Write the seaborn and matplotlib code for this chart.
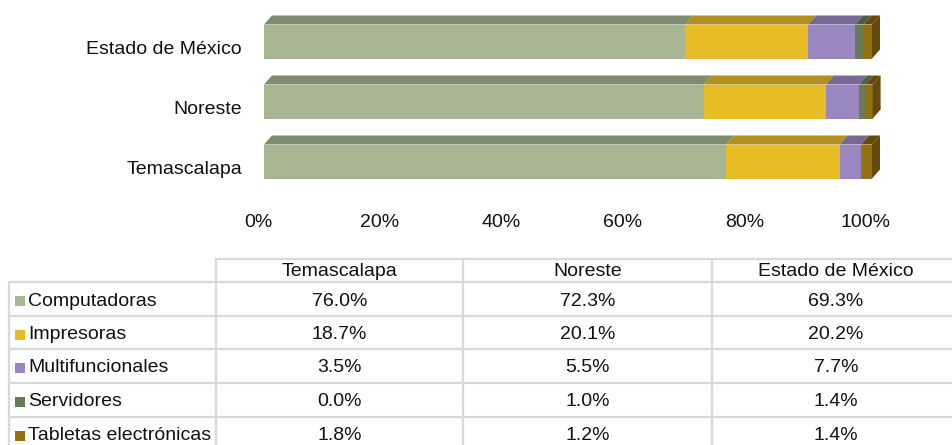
import matplotlib
matplotlib.use("Agg")
import matplotlib.pyplot as plt
import matplotlib.transforms as mtransforms
from matplotlib.patches import Polygon, Rectangle
import numpy as np
import pandas as pd
import seaborn as sns

# data (percent)
regions = ["Estado de México", "Noreste", "Temascalapa"]
table_cols = ["Temascalapa", "Noreste", "Estado de México"]
categories = ["Computadoras", "Impresoras", "Multifuncionales", "Servidores", "Tabletas electrónicas"]
computadoras = [69.3, 72.3, 76.0]
impresoras = [20.2, 20.1, 18.7]
multifuncionales = [7.7, 5.5, 3.5]
servidores = [1.4, 1.0, 0.0]
tabletas = [1.4, 1.2, 1.8]
x_ticks = [0, 20, 40, 60, 80, 100]

colors = ["#A7B593", "#E7BD27", "#9A86C1", "#687B55", "#957211"]
top_colors = ["#808A6F", "#B38F20", "#786896", "#4F5E40", "#64490B"]

values = np.array([computadoras, impresoras, multifuncionales, servidores, tabletas])
cum = values.cumsum(axis=0)

sns.set_style("white")
plt.rcParams["font.family"] = ["Liberation Sans", "DejaVu Sans"]
FS = 14
TXT = "#111111"

W, H = 953, 445
fig = plt.figure(figsize=(W / 100, H / 100), dpi=100)


def px_axes(l, t, r, b):
    return fig.add_axes([l / W, 1 - b / H, (r - l) / W, (b - t) / H])


# table canvas (pixel units)
tax = fig.add_axes([0, 0, 1, 1])
tax.set_xlim(0, W)
tax.set_ylim(H, 0)
tax.axis("off")

# bars
ax = px_axes(264, 10, 872, 210)
bar_h = 34 / 60
for j in range(len(categories) - 1, -1, -1):
    df = pd.DataFrame({"region": regions, "cum": cum[j]})
    sns.barplot(data=df, x="cum", y="region", order=regions, color=colors[j],
                saturation=1, width=bar_h, orient="h", edgecolor="none", ax=ax)
for p in ax.patches:
    p.set_clip_on(False)

ax.set_xlim(0, 100)
ax.set_ylim(-0.525 + 200 / 60, -0.525)

# 3d top faces and side face
ddx = 8 / 6.08
ddy = 9 / 60
for i in range(len(regions)):
    yt = i - bar_h / 2
    yb = i + bar_h / 2
    for j in range(len(categories)):
        x1 = cum[j, i]
        x0 = x1 - values[j, i]
        ax.add_patch(Polygon([(x0, yt), (x1, yt), (x1 + ddx, yt - ddy), (x0 + ddx, yt - ddy)],
                             closed=True, facecolor=top_colors[j], edgecolor="none", clip_on=False))
    x1 = cum[-1, i]
    ax.add_patch(Polygon([(x1, yt), (x1 + ddx, yt - ddy), (x1 + ddx, yb - ddy), (x1, yb)],
                         closed=True, facecolor=top_colors[-1], edgecolor="none", clip_on=False))

ax.set_xticks(x_ticks)
ax.set_xticklabels([f"{t}%" for t in x_ticks])
ax.set_xlabel("")
ax.set_ylabel("")
ax.tick_params(axis="x", length=0, labelsize=FS, pad=3, labelcolor=TXT)
ax.tick_params(axis="y", length=0, labelsize=FS, pad=15.8, labelcolor=TXT)
for lab in ax.get_xticklabels():
    lab.set_transform(lab.get_transform() + mtransforms.ScaledTranslation(-0.06, 0, fig.dpi_scale_trans))
for lab in ax.get_yticklabels():
    lab.set_transform(lab.get_transform() + mtransforms.ScaledTranslation(0, -0.065, fig.dpi_scale_trans))
sns.despine(ax=ax, left=True, bottom=True)
ax.patch.set_alpha(0)

# data table
grid = "#D9D9D9"
lw = 1.6
col_x = [216, 463, 712, 960]
row_y = [282, 316, 349, 383, 417, 451]
tax.plot([216, W], [259, 259], color=grid, lw=lw)
for y in row_y[:-1]:
    tax.plot([9, W], [y, y], color=grid, lw=lw)
tax.plot([9, 9], [282, H], color=grid, lw=lw)
for x in col_x[:-1]:
    tax.plot([x, x], [259, H], color=grid, lw=lw)

col_order = [regions.index(c) for c in table_cols]
for k, name in enumerate(table_cols):
    cx = (col_x[k] + col_x[k + 1]) / 2
    tax.text(cx, 271, name, ha="center", va="center", fontsize=FS, color=TXT)
    for j in range(len(categories)):
        cy = (row_y[j] + row_y[j + 1]) / 2 + 2
        tax.text(cx, cy, f"{values[j, col_order[k]]:.1f}%", ha="center", va="center",
                 fontsize=FS, color=TXT)

for j, cat in enumerate(categories):
    cy = (row_y[j] + row_y[j + 1]) / 2 + 2
    tax.add_patch(Rectangle((15, cy - 5), 10, 10, facecolor=colors[j], edgecolor="none"))
    tax.text(28, cy, cat, ha="left", va="center", fontsize=FS, color=TXT)

fig.savefig("out.png", dpi=100)
